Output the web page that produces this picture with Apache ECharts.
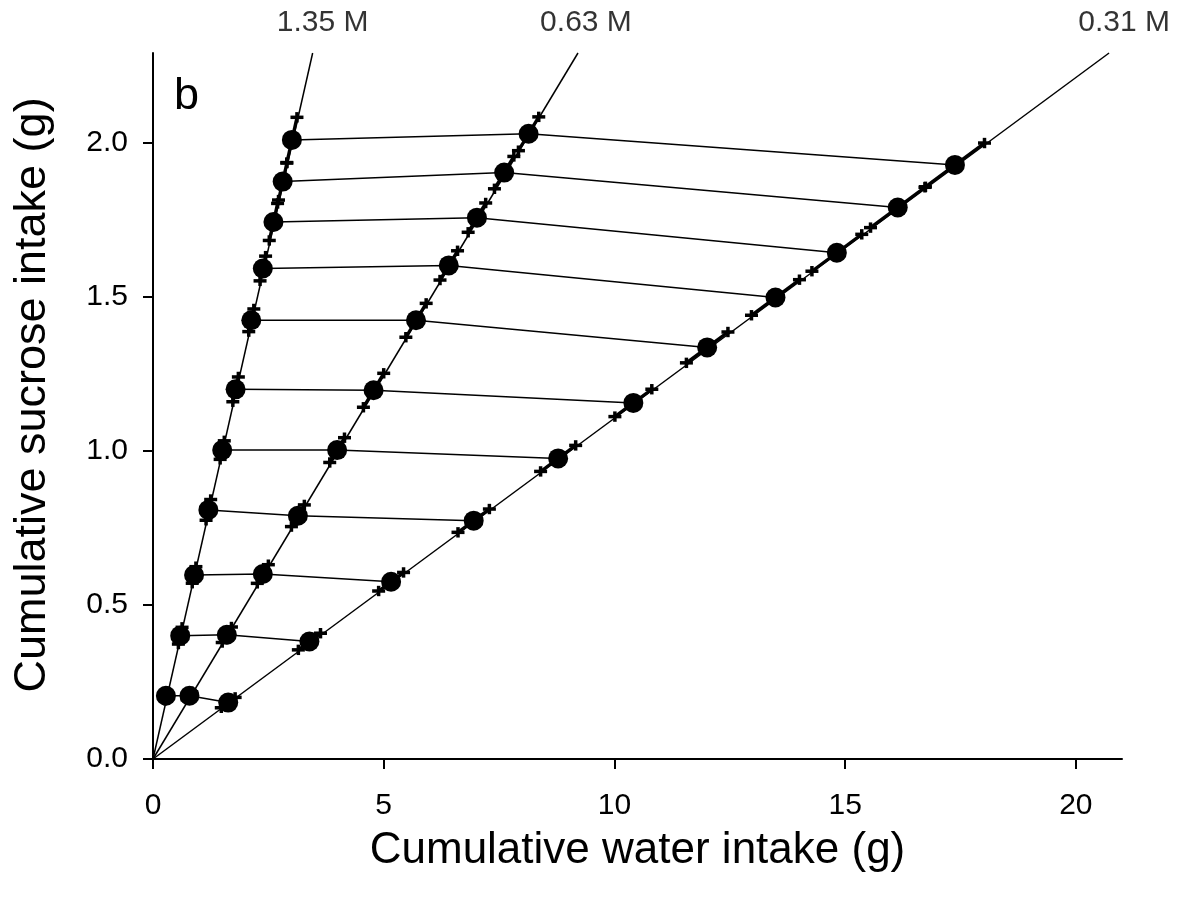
<!DOCTYPE html>
<html>
<head>
<meta charset="utf-8">
<title>Cumulative sucrose vs water intake</title>
<script src="https://cdn.jsdelivr.net/npm/echarts@6/dist/echarts.min.js"></script>
<style>
  html, body { margin: 0; padding: 0; background: #fff; }
  #chart { width: 1182px; height: 908px; }
</style>
</head>
<body>
<div id="chart"></div>
<script>
// Axis extents and tick values
const X_MAX = 21;
const Y_MAX = 2.29;
const xTicks = [0, 5, 10, 15, 20];
const yTicks = [0, 0.5, 1.0, 1.5, 2.0];

// Sucrose concentrations: one ray per solution, running from the origin to the top of the plot
const concLabels = ['1.35 M', '0.63 M', '0.31 M'];
const rayEndWater = [3.46, 9.21, 20.72];

// Cumulative intake at successive time points (g)
const water135   = [0.28, 0.59, 0.89, 1.20, 1.50, 1.79, 2.13, 2.38, 2.61, 2.81, 3.01];
const sucrose135 = [0.205, 0.400, 0.597, 0.808, 1.002, 1.199, 1.423, 1.591, 1.742, 1.873, 2.008];
const err135     = [0.02, 0.04, 0.04, 0.05, 0.045, 0.06, 0.055, 0.06, 0.09, 0.09, 0.11];

const water063   = [0.79, 1.60, 2.38, 3.14, 3.99, 4.78, 5.70, 6.41, 7.02, 7.61, 8.14];
const sucrose063 = [0.205, 0.403, 0.600, 0.789, 1.002, 1.196, 1.423, 1.601, 1.756, 1.902, 2.028];
const err063     = [0.05, 0.10, 0.12, 0.14, 0.16, 0.22, 0.22, 0.19, 0.19, 0.21, 0.22];

const water031   = [1.63, 3.39, 5.16, 6.95, 8.78, 10.41, 12.01, 13.49, 14.82, 16.14, 17.38];
const sucrose031 = [0.183, 0.381, 0.575, 0.773, 0.975, 1.155, 1.335, 1.497, 1.642, 1.789, 1.927];
const err031     = [0.15, 0.24, 0.27, 0.34, 0.38, 0.40, 0.45, 0.52, 0.54, 0.59, 0.64];

const groups = [
  { water: water135, sucrose: sucrose135, err: err135 },
  { water: water063, sucrose: sucrose063, err: err063 },
  { water: water031, sucrose: sucrose031, err: err031 }
];

const FONT = '"Liberation Sans", Arial, Helvetica, sans-serif';
const INK = '#000';
const labelShift = [10, 8, 15];

const series = [];

// Concentration rays
groups.forEach((g, k) => {
  series.push({
    type: 'line',
    data: [[0, 0], [rayEndWater[k], Y_MAX]],
    symbol: 'none',
    silent: true,
    clip: false,
    lineStyle: { color: INK, width: 1.5, opacity: 1 },
    z: 2
  });
});

// Lines joining the three solutions at the same time point
water135.forEach((_, i) => {
  series.push({
    type: 'line',
    data: groups.map(g => [g.water[i], g.sucrose[i]]),
    symbol: 'none',
    silent: true,
    lineStyle: { color: INK, width: 1.5, opacity: 1 },
    z: 2
  });
});

// Error bars along each ray (sucrose error scales with the solution's sucrose/water ratio)
groups.forEach(g => {
  series.push({
    type: 'custom',
    silent: true,
    clip: false,
    z: 3,
    data: g.water.map((w, i) => [w, g.sucrose[i], g.err[i]]),
    renderItem: function (params, api) {
      const w = api.value(0), s = api.value(1), e = api.value(2);
      const r = s / w;
      const lo = api.coord([w - e, s - e * r]);
      const hi = api.coord([w + e, s + e * r]);
      const cap = 6.5;
      const style = { stroke: INK, lineWidth: 3.5, fill: null };
      const children = [
        { type: 'line', shape: { x1: lo[0], y1: lo[1], x2: hi[0], y2: hi[1] }, style: { stroke: INK, lineWidth: 3.2 } }
      ];
      [lo, hi].forEach(p => {
        children.push({ type: 'line', shape: { x1: p[0] - cap, y1: p[1], x2: p[0] + cap, y2: p[1] }, style: style });
        children.push({ type: 'line', shape: { x1: p[0], y1: p[1] - cap * 0.8, x2: p[0], y2: p[1] + cap * 0.8 }, style: style });
      });
      return { type: 'group', children: children };
    }
  });
});

// Mean points
groups.forEach(g => {
  series.push({
    type: 'scatter',
    data: g.water.map((w, i) => [w, g.sucrose[i]]),
    symbol: 'circle',
    symbolSize: 20,
    silent: true,
    itemStyle: { color: INK, opacity: 1 },
    z: 5
  });
});

// Concentration labels above the ray ends
series.push({
  type: 'scatter',
  silent: true,
  clip: false,
  symbolSize: 1,
  itemStyle: { color: 'rgba(0,0,0,0)' },
  data: rayEndWater.map((x, k) => ({
    value: [x, Y_MAX],
    label: {
      show: true,
      formatter: concLabels[k],
      position: 'top',
      distance: 15,
      offset: [labelShift[k], 0],
      color: INK,
      fontSize: 30,
      fontFamily: FONT
    }
  })),
  z: 6
});

const chart = echarts.init(document.getElementById('chart'), null, { renderer: 'canvas' });
chart.setOption({
  animation: false,
  backgroundColor: '#fff',
  textStyle: { color: INK, fontFamily: FONT },
  grid: { left: 153, right: 60, top: 53, bottom: 149, containLabel: false, outerBoundsMode: 'none' },
  xAxis: {
    type: 'value',
    min: 0,
    max: X_MAX,
    name: 'Cumulative water intake (g)',
    nameLocation: 'middle',
    nameGap: 70,
    nameMoveOverlap: false,
    nameTextStyle: { fontSize: 44, color: INK, fontFamily: FONT },
    splitLine: { show: false },
    axisLine: { onZero: false, lineStyle: { color: INK, width: 2 } },
    axisTick: { show: true, length: 10, inside: false, customValues: xTicks, lineStyle: { color: INK, width: 2 } },
    axisLabel: { customValues: xTicks, margin: 32, fontSize: 30, color: INK, fontFamily: FONT }
  },
  yAxis: {
    type: 'value',
    min: 0,
    max: Y_MAX,
    name: 'Cumulative sucrose intake (g)',
    nameLocation: 'middle',
    nameRotate: 90,
    nameGap: 98,
    nameMoveOverlap: false,
    nameTextStyle: { fontSize: 45, color: INK, fontFamily: FONT, padding: [0, 0, 0, 22] },
    splitLine: { show: false },
    axisLine: { onZero: false, lineStyle: { color: INK, width: 2 } },
    axisTick: { show: true, length: 10, inside: false, customValues: yTicks, lineStyle: { color: INK, width: 2 } },
    axisLabel: {
      customValues: yTicks,
      margin: 25,
      fontSize: 30,
      color: INK,
      fontFamily: FONT,
      formatter: v => v.toFixed(1)
    }
  },
  graphic: [{
    type: 'text',
    left: 174,
    top: 74,
    silent: true,
    style: { text: 'b', fontSize: 45, fill: INK, fontFamily: FONT }
  }],
  series: series
});
</script>
</body>
</html>
